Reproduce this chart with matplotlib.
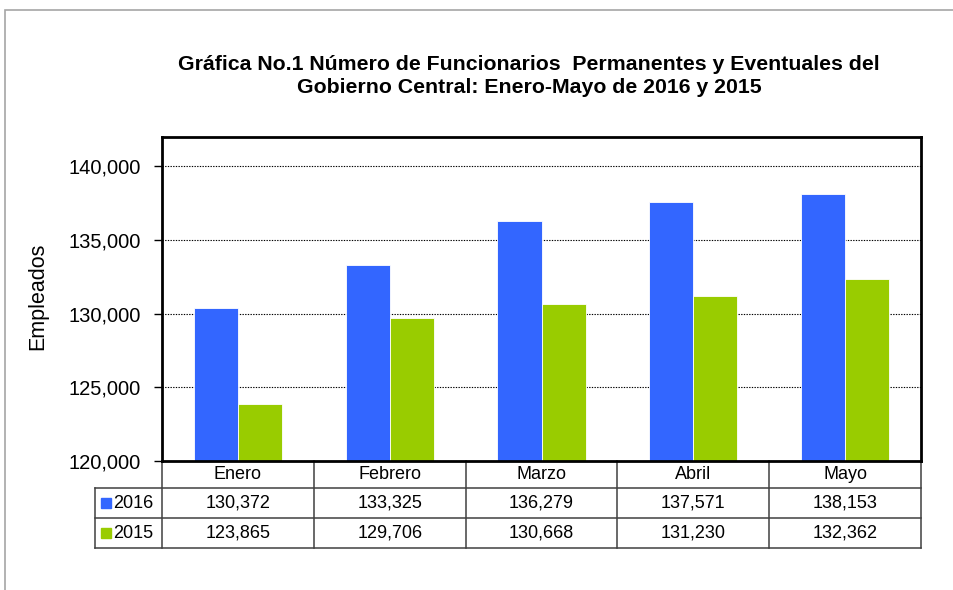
import matplotlib
matplotlib.use('Agg')
import matplotlib.pyplot as plt
import numpy as np
from matplotlib.patches import Rectangle
from matplotlib.ticker import FuncFormatter

plt.rcParams['font.family'] = ['Liberation Sans', 'DejaVu Sans']

months = ['Enero', 'Febrero', 'Marzo', 'Abril', 'Mayo']
years = ['2016', '2015']
vals_2016 = [130372, 133325, 136279, 137571, 138153]
vals_2015 = [123865, 129706, 130668, 131230, 132362]
colors = ['#3366FF', '#99CC00']

series = [vals_2016, vals_2015]

fig = plt.figure(figsize=(9.54, 5.90), dpi=100)
ax = fig.add_axes([162/954, 1 - 461/590, (921 - 162)/954, (461 - 137)/590])

# outer frame of the chart object
fig.patches.append(Rectangle((5/954, -0.1), 1.2, 1 - 10/590 + 0.1, transform=fig.transFigure,
                             fill=False, edgecolor='#A6A6A6', linewidth=1.2))

x = np.arange(len(months))
w = 0.29
for i, (vals, c) in enumerate(zip(series, colors)):
    ax.bar(x + (i - 0.5) * w, vals, width=w, color=c, edgecolor='white', linewidth=0.6, zorder=3)

ax.set_xlim(-0.5, len(months) - 0.5)
ax.set_ylim(120000, 142000)
ax.set_yticks([120000, 125000, 130000, 135000, 140000])
ax.yaxis.set_major_formatter(FuncFormatter(lambda v, p: f'{v:,.0f}'))
ax.tick_params(axis='y', labelsize=14.5, length=6, width=1, pad=9, direction='out')
ax.set_xticks([])
ax.grid(axis='y', color='black', linestyle=(0, (1.2, 1.2)), linewidth=0.8, zorder=1)
for s in ax.spines.values():
    s.set_linewidth(2)
    s.set_color('black')
    s.set_zorder(5)

# data table under the plot, drawn in axes coordinates
ph = 324.0
left = -67/759
row_edges = [0, -27/ph, -57/ph, -87/ph]
col_edges = [i / len(months) for i in range(len(months) + 1)]
lc = '#404040'
kw = dict(transform=ax.transAxes, clip_on=False, color=lc, linewidth=1.1)

for yy in row_edges[1:]:
    ax.plot([left, 1], [yy, yy], **kw)
ax.plot([left, left], [row_edges[1], row_edges[-1]], **kw)
for xx in col_edges:
    ax.plot([xx, xx], [0, row_edges[-1]], **kw)

tk = dict(transform=ax.transAxes, fontsize=13, ha='center', va='center')
for j, m in enumerate(months):
    cx = (col_edges[j] + col_edges[j + 1]) / 2
    ax.text(cx, (row_edges[0] + row_edges[1]) / 2, m, **tk)
for i, (y, vals, c) in enumerate(zip(years, series, colors)):
    cy = (row_edges[i + 1] + row_edges[i + 2]) / 2
    ax.plot([-56/759], [cy], marker='s', markersize=7.5, color=c, transform=ax.transAxes,
            clip_on=False, linestyle='none')
    ax.text(-49/759, cy, y, transform=ax.transAxes, fontsize=13, ha='left', va='center')
    for j, v in enumerate(vals):
        cx = (col_edges[j] + col_edges[j + 1]) / 2
        ax.text(cx, cy, f'{v:,}', **tk)

fig.text(529/954, 1 - 76/590,
         'Gráfica No.1 Número de Funcionarios  Permanentes y Eventuales del\nGobierno Central: Enero-Mayo de 2016 y 2015',
         ha='center', va='center', fontsize=15.3, fontweight='bold', linespacing=1.25)
fig.text(37.5/954, 1 - 296/590, 'Empleados', rotation=90, ha='center', va='center', fontsize=15.5)

fig.savefig('out.png', dpi=100)
